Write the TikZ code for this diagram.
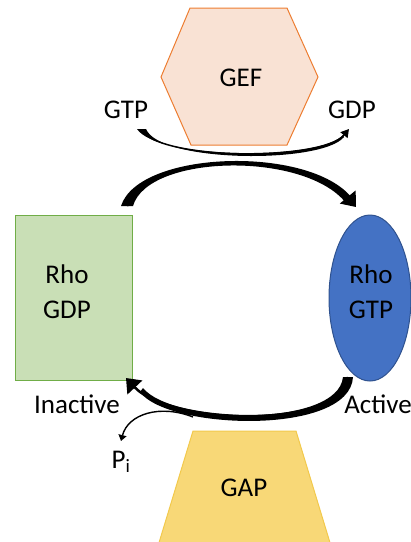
\documentclass[tikz,border=0pt]{standalone}
\usepackage{fontspec}
\setmainfont{Carlito}
\usetikzlibrary{arrows.meta}
\definecolor{gefFill}{HTML}{F9E2D4}
\definecolor{gefLine}{HTML}{ED7D31}
\definecolor{gdpFill}{HTML}{C9DFB6}
\definecolor{gdpLine}{HTML}{70AD47}
\definecolor{gtpFill}{HTML}{4472C4}
\definecolor{gtpLine}{HTML}{2F528F}
\definecolor{gapFill}{HTML}{F8D877}
\definecolor{gapLine}{HTML}{F2C94C}
\tikzset{
  lbl/.style={font=\fontsize{27}{33}\selectfont, inner sep=0pt, align=center},
  twoline/.style={lbl, font=\fontsize{27}{35}\selectfont},
  bigarrow/.style={line width=2.5pt, -{Triangle[length=13pt,width=20pt]}},
  thinarrow/.style={line width=1.5pt, -{Triangle[length=8pt,width=9pt]}},
  tinyarrow/.style={line width=1.4pt, -{Triangle[length=6pt,width=8pt]}},
}
\begin{document}
\begin{tikzpicture}[x=1pt,y=-1pt]
\useasboundingbox (0,0) rectangle (411,542);

% GEF hexagon
\filldraw[fill=gefFill, draw=gefLine, line width=1pt]
  (190,8) -- (287,8) -- (318,77) -- (287,145) -- (191,145) -- (161,77) -- cycle;
\node[lbl] (gef) at (241,78) {GEF};

% GAP trapezium
\filldraw[fill=gapFill, draw=gapLine, line width=1pt]
  (193,431) -- (296,431) -- (331,546) -- (158,546) -- cycle;
\node[lbl] (gap) at (244,488) {GAP};

% Rho-GDP box
\node[draw=gdpLine, fill=gdpFill, line width=1pt, minimum width=117pt,
      minimum height=165pt, inner sep=0pt] (rhogdp) at (73.5,297.5) {};
\node[twoline] (rhogdptxt) at (67,292) {Rho\\GDP};

% Rho-GTP ellipse
\filldraw[fill=gtpFill, draw=gtpLine, line width=1pt] (370,298) ellipse (41pt and 83pt);
\coordinate (rhogtp) at (370,298);
\node[twoline] (rhogtptxt) at (371,292) {Rho\\GTP};

% Labels
\node[lbl] (gtp) at (126,110) {GTP};
\node[lbl] (gdp) at (352,110) {GDP};
\node[lbl] (inactive) at (77,404) {Inactive};
\node[lbl] (active) at (378,404) {Active};
\node[lbl, anchor=base] (pi) at (121,468) {P\textsubscript{i}};

% Connector end points
\coordinate (gtpout) at (141,130);
\coordinate (gdpin) at (349,129);
\coordinate (actstart) at (127,206);
\coordinate (actend) at (356,207);
\coordinate (inactstart) at (348,377);
\coordinate (inactend) at (126,378);
\coordinate (pistart) at (193,417);
\coordinate (piend) at (121,441);

% GTP in, GDP out (tapered body, then the tip)
\fill (137,129) .. controls (158,160) and (320,160) .. (343,135)
   -- (344,137) .. controls (322,164) and (160,163) .. (146,129) -- cycle;
\draw[thinarrow] (gtpout) .. controls (160,160) and (322,162) .. (gdpin);

% activation by GEF
\fill (121,206) .. controls (139,150) and (310,145) .. (352,198)
   -- (346,203) .. controls (305,151) and (148,154) .. (133,206) -- cycle;
\draw[bigarrow] (actstart) .. controls (145,152) and (308,149) .. (actend);

% inactivation by GAP
\fill (353,377) .. controls (350,436) and (168,430) .. (140,392)
   -- (143,388) .. controls (172,424) and (338,428) .. (343,377) -- cycle;
\draw[bigarrow] (inactstart) .. controls (343,430) and (170,425) .. (inactend);

% phosphate release
\draw[tinyarrow] (pistart) .. controls (160,404) and (128,414) .. (piend);
\end{tikzpicture}
\end{document}
